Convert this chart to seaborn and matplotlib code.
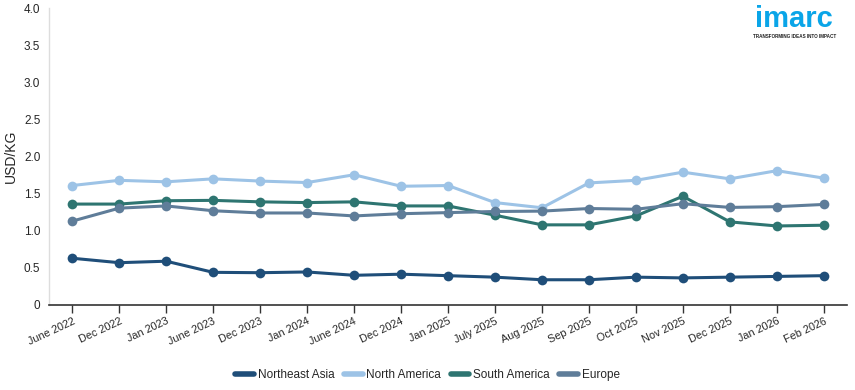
import matplotlib
matplotlib.use("Agg")
import matplotlib.pyplot as plt
import seaborn as sns
import pandas as pd
from matplotlib.lines import Line2D

dates = ["June 2022", "Dec 2022", "Jan 2023", "June 2023", "Dec 2023", "Jan 2024",
         "June 2024", "Dec 2024", "Jan 2025", "July 2025", "Aug 2025", "Sep 2025",
         "Oct 2025", "Nov 2025", "Dec 2025", "Jan 2026", "Feb 2026"]
northeast_asia = [0.63, 0.57, 0.59, 0.44, 0.435, 0.445, 0.40, 0.415, 0.395, 0.375,
                  0.34, 0.34, 0.375, 0.365, 0.375, 0.385, 0.395]
north_america = [1.61, 1.68, 1.66, 1.70, 1.67, 1.65, 1.755, 1.60, 1.61, 1.38,
                 1.31, 1.645, 1.68, 1.79, 1.70, 1.81, 1.71]
south_america = [1.36, 1.36, 1.405, 1.41, 1.39, 1.38, 1.39, 1.335, 1.335, 1.21,
                 1.08, 1.08, 1.20, 1.465, 1.12, 1.065, 1.075]
europe = [1.13, 1.305, 1.335, 1.27, 1.24, 1.24, 1.20, 1.23, 1.245, 1.26,
          1.265, 1.30, 1.29, 1.365, 1.315, 1.325, 1.355]
series_names = ["Northeast Asia", "North America", "South America", "Europe"]
colors = ["#1f4e79", "#9dc3e6", "#2e7571", "#5f7d99"]

df = pd.DataFrame({"Date": dates, "Northeast Asia": northeast_asia,
                   "North America": north_america, "South America": south_america,
                   "Europe": europe})
long = df.melt(id_vars="Date", var_name="Region", value_name="Price")
long["idx"] = long["Date"].map({d: i for i, d in enumerate(dates)})

sns.set_theme(style="white")
plt.rcParams["font.family"] = ["Liberation Sans", "DejaVu Sans"]

fig = plt.figure(figsize=(8.55, 3.9), dpi=100)
ax = fig.add_axes([0.057, 0.218, 0.934, 0.761])

sns.lineplot(data=long, x="idx", y="Price", hue="Region", hue_order=series_names,
             palette=colors, marker="o", markersize=7, markeredgewidth=0,
             linewidth=2.2, ax=ax, legend=False, sort=False)

ax.set_xlim(-0.5, 16.5)
ax.set_ylim(0, 4.0)
ax.set_xticks(range(len(dates)))
ax.set_xticklabels(dates, rotation=25, ha="right", rotation_mode="anchor", fontsize=7.8)
ax.set_yticks([0, 0.5, 1.0, 1.5, 2.0, 2.5, 3.0, 3.5, 4.0])
ax.set_yticklabels(["0", "0.5", "1.0", "1.5", "2.0", "2.5", "3.0", "3.5", "4.0"], fontsize=8.5)
ax.set_xlabel("")
ax.set_ylabel("USD/KG", fontsize=10)
ax.tick_params(axis="x", which="both", bottom=True, length=6, width=1, color="#333333", pad=2)
ax.tick_params(axis="y", length=0, pad=6)
for s in ["top", "right"]:
    ax.spines[s].set_visible(False)
ax.spines["left"].set_color("#dddddd")
ax.spines["left"].set_linewidth(1)
ax.spines["bottom"].set_color("#333333")
ax.spines["bottom"].set_linewidth(1.2)
ax.grid(False)

handles = [Line2D([0], [0], color=c, linewidth=4) for c in colors]
fig.legend(handles, series_names, loc="center", bbox_to_anchor=(0.5, 0.038), ncol=4,
           frameon=False, fontsize=8.5, handlelength=1.6, handletextpad=0.3,
           columnspacing=0.8)

fig.text(0.929, 0.93, "imarc", color="#0aa5e8", fontsize=21, fontweight="bold",
         ha="center", va="baseline")
fig.text(0.929, 0.912, "TRANSFORMING IDEAS INTO IMPACT", color="#222222", fontsize=3.3,
         fontweight="bold", ha="center", va="top")

fig.savefig("out.png", dpi=100)
